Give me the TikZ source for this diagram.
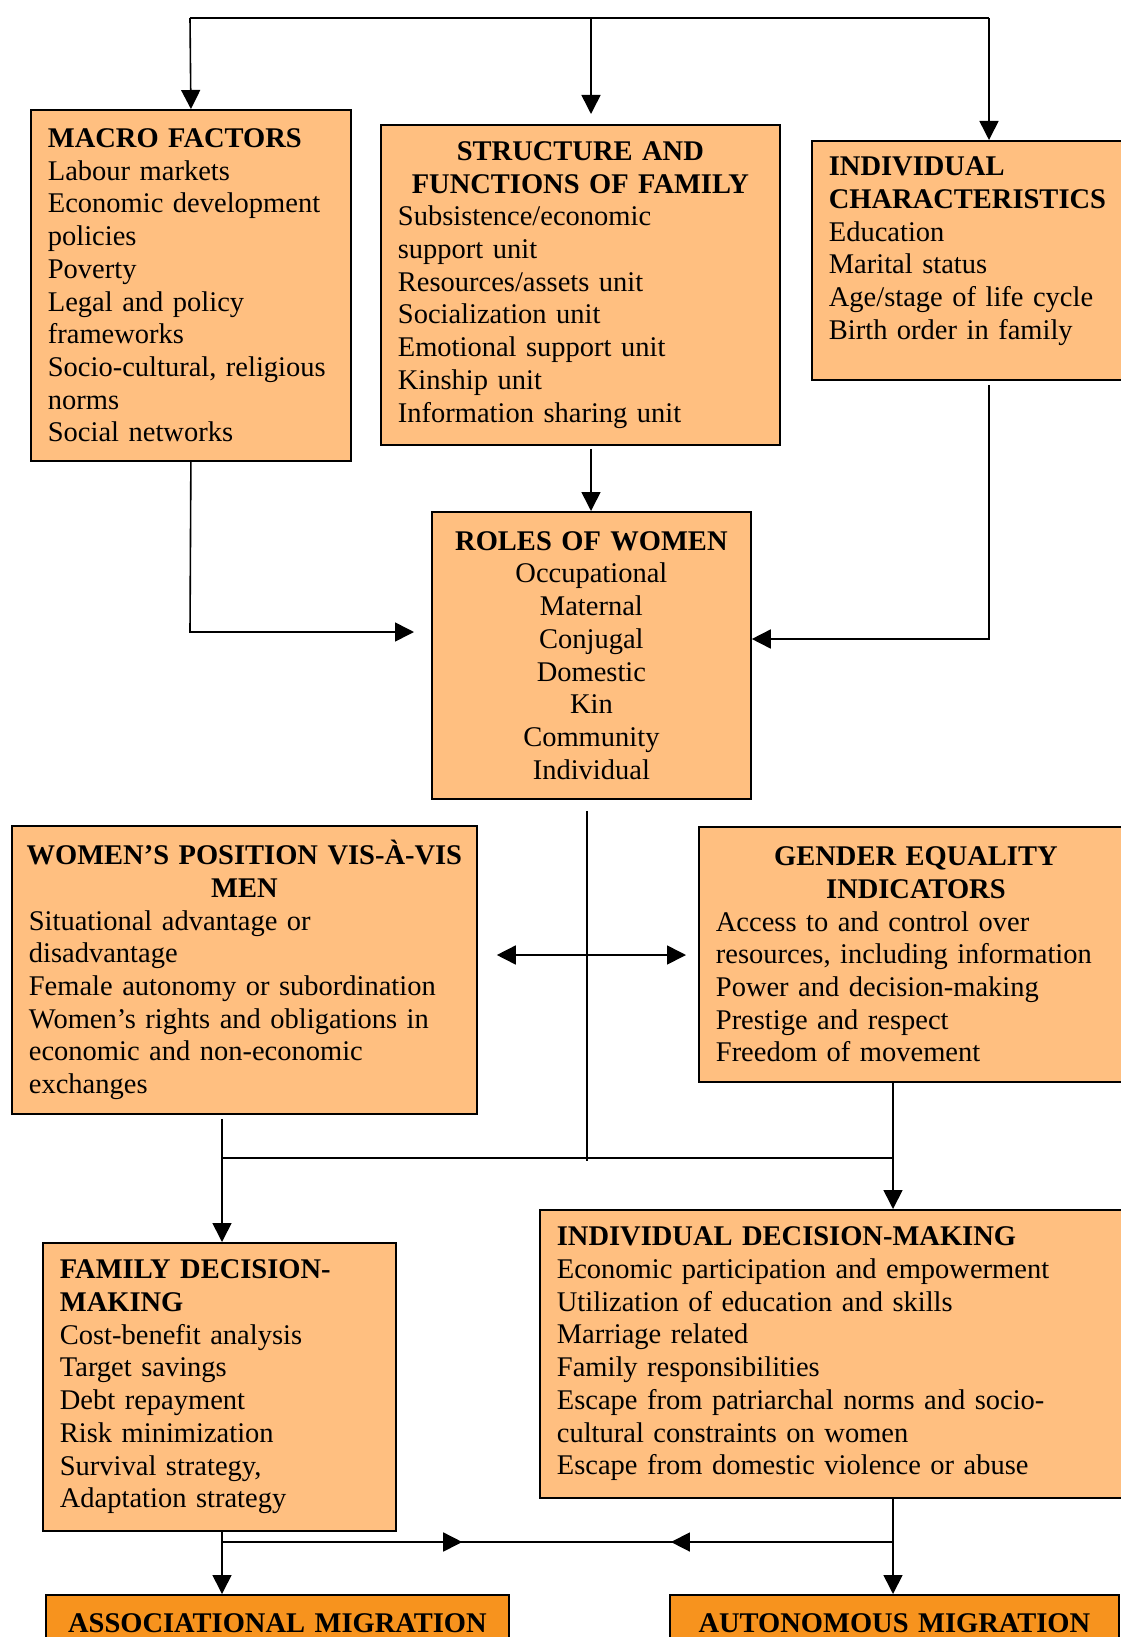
\documentclass[tikz,border=0pt]{standalone}
\usepackage{fontspec}
\setmainfont{Liberation Serif}
\usetikzlibrary{arrows.meta,calc}
\definecolor{boxfill}{HTML}{FFBF80}
\definecolor{migfill}{HTML}{F7931E}
\setlength{\parindent}{0pt}
\newcommand{\boxtitle}[1]{\makebox[\linewidth]{\bfseries #1}}
\tikzset{
  box/.style={draw, line width=1.8pt, fill=boxfill, anchor=north west,
    inner xsep=17pt, inner ysep=0pt, align=left,
    font=\fontsize{28.5}{32.7}\selectfont},
  migbox/.style={box, fill=migfill, align=center},
  link/.style={line width=1.6pt}
}
\begin{document}
\begin{tikzpicture}[x=1pt,y=-1pt,>={Triangle[length=19pt,width=19pt]}]
\useasboundingbox (0,0) rectangle (1120,1637);

% boxes
\node[box, text width=286pt, minimum height=351pt] (macro) at (30,109)
  {\textbf{MACRO FACTORS}\\ Labour markets\\ Economic development\\ policies\\
   Poverty\\ Legal and policy\\ frameworks\\ Socio-cultural, religious\\
   norms\\ Social networks};
\node[box, text width=365pt, minimum height=320pt] (structure) at (380,124)
  {\boxtitle{STRUCTURE AND}\\ \boxtitle{FUNCTIONS OF FAMILY}\\
   Subsistence/economic\\ support unit\\ Resources/assets unit\\
   Socialization unit\\ Emotional support unit\\ Kinship unit\\
   Information sharing unit};
\node[box, text width=285pt, minimum height=239pt] (indiv) at (811,140)
  {\textbf{INDIVIDUAL}\\ \textbf{CHARACTERISTICS}\\ Education\\ Marital status\\
   Age/stage of life cycle\\ Birth order in family\\[-8pt]\mbox{}};
\node[box, align=center, text width=285pt, minimum height=287pt] (roles) at (431,511)
  {\textbf{ROLES OF WOMEN}\\ Occupational\\ Maternal\\ Conjugal\\ Domestic\\
   Kin\\ Community\\ Individual};
\node[box, text width=431pt, minimum height=288pt] (women) at (11,825)
  {\boxtitle{WOMEN'S POSITION VIS-À-VIS}\\ \boxtitle{MEN}\\
   Situational advantage or\\ disadvantage\\ Female autonomy or subordination\\
   Women's rights and obligations in\\ economic and non-economic\\ exchanges};
\node[box, text width=400pt, minimum height=255pt] (gender) at (698,826)
  {\boxtitle{GENDER EQUALITY}\\ \boxtitle{INDICATORS}\\
   Access to and control over\\ resources, including information\\
   Power and decision-making\\ Prestige and respect\\ Freedom of movement};
\node[box, text width=319pt, minimum height=288pt] (family) at (42,1242)
  {\textbf{FAMILY DECISION-}\\ \textbf{MAKING}\\ Cost-benefit analysis\\
   Target savings\\ Debt repayment\\ Risk minimization\\ Survival strategy,\\
   Adaptation strategy};
\node[box, text width=557pt, minimum height=288pt] (indivdm) at (539,1209)
  {\textbf{INDIVIDUAL DECISION-MAKING}\\ Economic participation and empowerment\\
   Utilization of education and skills\\ Marriage related\\
   Family responsibilities\\ Escape from patriarchal norms and socio-\\
   cultural constraints on women\\ Escape from domestic violence or abuse};
\node[migbox, text width=429pt, minimum height=56pt] (assoc) at (45,1594)
  {\textbf{ASSOCIATIONAL MIGRATION}};
\node[migbox, text width=415pt, minimum height=56pt] (auton) at (669,1594)
  {\textbf{AUTONOMOUS MIGRATION}};

% top row
\coordinate (topl) at (190,18);
\coordinate (topm) at (591,18);
\coordinate (topr) at (989,18);
\draw[link] (topl) -- (topr);
\draw[link,->] (topl) -- (macro.north);
\draw[link,->,shorten >=10pt] (topm) -- (topm |- structure.north);
\draw[link,->] (topr) -- (topr |- indiv.north);

% into roles
\coordinate (macroturn) at (190,632);
\coordinate (indivturn) at (989,639);
\draw[link,->,shorten >=17pt] (macro.south) -- (macroturn) -- (macroturn -| roles.west);
\draw[link,->,shorten <=4pt] (topr |- indiv.south) -- (indivturn) -- (indivturn -| roles.east);
\draw[link,->,shorten <=3pt] (topm |- structure.south) -- (topm |- roles.north);

% out of roles
\coordinate (hub) at (587,955);
\coordinate (rolesend) at (587,1161);
\draw[link,shorten <=11pt] (hub |- roles.south) -- (rolesend);
\draw[link,->,shorten >=19pt] (hub) -- (hub -| women.east);
\draw[link,->,shorten >=12pt] (hub) -- (hub -| gender.west);

% decision making
\coordinate (midl) at (222,1158);
\coordinate (midr) at (893,1158);
\draw[link] (midl) -- (midr);
\draw[link,->,shorten <=4pt] (midl |- women.south) -- (midl |- family.north);
\draw[link,->] (midr |- gender.south) -- (midr |- indivdm.north);

% migration
\coordinate (lowl) at (222,1542);
\coordinate (lowr) at (893,1542);
\draw[link] (lowl) -- (lowr);
\draw[link,->] (lowl) -- ($(lowl)!.358!(lowr)$);
\draw[link,->] (lowr) -- ($(lowl)!.669!(lowr)$);
\draw[link,->] (midl |- family.south) -- (midl |- assoc.north);
\draw[link,->] (midr |- indivdm.south) -- (midr |- auton.north);
\end{tikzpicture}
\end{document}
